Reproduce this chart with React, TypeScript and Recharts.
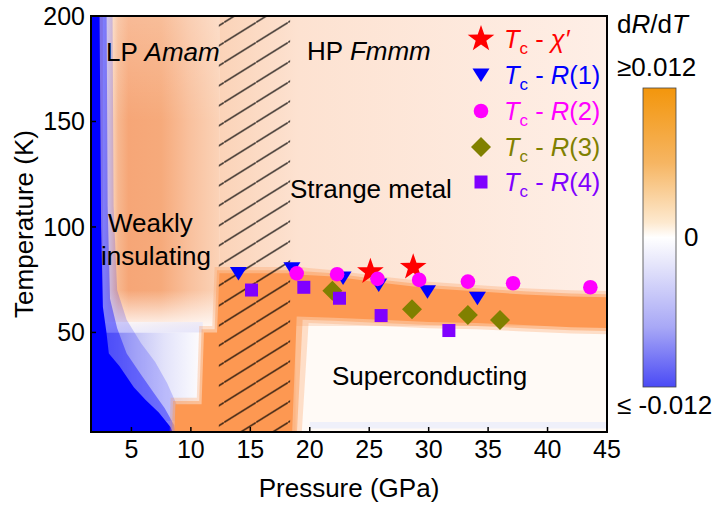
import React from 'react';
import { ComposedChart, XAxis, YAxis, Area, Scatter, ReferenceArea } from 'recharts';

const FONT = '"Liberation Sans", Arial, Helvetica, sans-serif';

// axes
const pressureTicks = [5, 10, 15, 20, 25, 30, 35, 40, 45];
const temperatureTicks = [50, 100, 150, 200];
const pressureDomain: [number, number] = [1.6, 45];
const temperatureDomain: [number, number] = [2.8, 200];

// Tc points (pressure GPa, temperature K)
const tcChi = [
  { p: 25.1, T: 78.8 },
  { p: 28.7, T: 80.9 },
];
const tcR1 = [
  { p: 14.0, T: 77.9 },
  { p: 18.5, T: 80.2 },
  { p: 22.8, T: 75.8 },
  { p: 25.8, T: 72.5 },
  { p: 29.9, T: 69.3 },
  { p: 34.1, T: 66.2 },
];
const tcR2 = [
  { p: 18.9, T: 78.0 },
  { p: 22.3, T: 77.6 },
  { p: 25.7, T: 75.4 },
  { p: 29.2, T: 74.9 },
  { p: 33.3, T: 74.1 },
  { p: 37.1, T: 73.3 },
  { p: 43.6, T: 71.4 },
];
const tcR3 = [
  { p: 21.9, T: 69.8 },
  { p: 28.6, T: 61.0 },
  { p: 33.3, T: 58.3 },
  { p: 36.0, T: 55.9 },
];
const tcR4 = [
  { p: 15.1, T: 70.1 },
  { p: 19.5, T: 71.4 },
  { p: 22.5, T: 66.2 },
  { p: 26.0, T: 58.0 },
  { p: 31.7, T: 50.9 },
];

// dR/dT map contours: [pressure, T low, T high]
// dR/dT <= -0.012 (saturated blue), and two paler contours around it
const blueCoreEdge: [number, number, number][] = [
  [1.0, 0, 215], [2.3, 0, 215], [2.45, 0, 100], [2.6, 0, 62], [2.9, 0, 50], [3.1, 0, 40],
  [4.0, 0, 34], [5.2, 0, 24], [6.2, 0, 18], [7.3, 0, 12], [8.3, 0, 5], [8.6, 0, 0],
];
const blueMidEdge: [number, number, number][] = [
  [1.0, 0, 215], [2.9, 0, 215], [3.0, 0, 110], [3.2, 0, 66], [3.8, 0, 52], [4.6, 0, 40],
  [5.8, 0, 30], [6.8, 0, 22], [7.8, 0, 14], [8.6, 0, 6], [8.8, 0, 0],
];
const blueOuterEdge: [number, number, number][] = [
  [1.0, 0, 215], [3.4, 0, 215], [3.5, 0, 110], [3.8, 0, 70], [4.6, 0, 56], [5.8, 0, 45],
  [7.0, 0, 36], [8.0, 0, 26], [8.8, 0, 16], [9.1, 0, 6], [9.2, 0, 0],
];
// dR/dT >= 0.012 (saturated orange), and two paler contours around it
const orangeCoreEdge: [number, number, number][] = [
  [8.6, 0, 0], [8.7, 0, 16], [10.9, 0, 16], [11.1, 0, 50], [12.2, 0, 50], [12.4, 0, 78],
  [18.5, 0, 78], [18.9, 57.5, 77.5], [22, 57, 76.5], [26, 56, 73.5], [30, 55, 71],
  [34, 54.5, 69.5], [38, 53.5, 68], [42, 52.5, 67], [46, 52, 66.5],
];
const orangeMidEdge: [number, number, number][] = [
  [8.4, 0, 0], [8.5, 0, 17.5], [10.7, 0, 17.5], [10.9, 0, 51.5], [12.0, 0, 51.5], [12.2, 0, 79.5],
  [18.9, 0, 79.5], [19.4, 56, 79], [22, 55.5, 78], [26, 54.5, 75], [30, 53.5, 72.5],
  [34, 53, 71], [38, 52, 69.5], [42, 51, 68.5], [46, 50.5, 68],
];
const orangeOuterEdge: [number, number, number][] = [
  [8.2, 0, 0], [8.3, 0, 19], [10.5, 0, 19], [10.7, 0, 53], [11.8, 0, 53], [12.0, 0, 81],
  [19.3, 0, 81], [19.9, 54.5, 80.5], [22, 54, 79.5], [26, 53, 76.5], [30, 52, 74],
  [34, 51.5, 72.5], [38, 50.5, 71], [42, 49.5, 70], [46, 49, 69.5],
];

// rectangular map cells: [p1, p2, T1, T2]
const baseCell = [0, 50, -10, 220];
const upperCell = [12.4, 46, 55, 215];
const lpOrangeCell = [2.6, 12.4, 50, 230];
const lpTopCell = [2.6, 12.4, 150, 215];
const lpFadeCell = [2.5, 12.4, 51, 70];
const lpWhiteCell = [2.5, 12.4, 0, 51.2];
const lavenderCell = [2.8, 11, 8, 50];
const lavenderTopCell = [2.8, 11, 50, 55];
const scWhiteCell = [18.8, 46, -5, 53];
const scStreakCell = [20, 46, 4.5, 7.5];
const hatchCell = [12.35, 18.35, 0, 210];

function mergeEdges() {
  const rows = new Map<number, any>();
  const add = (edges: [number, number, number][], key: string) =>
    edges.forEach(([p, lo, hi]) => {
      const r = rows.get(p) ?? { p };
      r[key] = [lo, hi];
      rows.set(p, r);
    });
  add(blueOuterEdge, 'blueOuter');
  add(blueMidEdge, 'blueMid');
  add(blueCoreEdge, 'blueCore');
  add(orangeOuterEdge, 'orangeOuter');
  add(orangeMidEdge, 'orangeMid');
  add(orangeCoreEdge, 'orangeCore');
  return [...rows.values()].sort((a, b) => a.p - b.p);
}
const mapData = mergeEdges();

const COLORS = {
  chi: '#ff0000',
  r1: '#0000ff',
  r2: '#ff00ff',
  r3: '#808000',
  r4: '#8000ff',
};
const BLUE_MAP = '#0000ff';
const ORANGE_MAP = '#fd9852';

function starPoints(cx: number, cy: number, R: number, r: number) {
  const pts: string[] = [];
  for (let i = 0; i < 10; i++) {
    const a = -Math.PI / 2 + (i * Math.PI) / 5;
    const rad = i % 2 === 0 ? R : r;
    pts.push(`${cx + rad * Math.cos(a)},${cy + rad * Math.sin(a)}`);
  }
  return pts.join(' ');
}

const StarMark = ({ cx, cy }: any) => <polygon points={starPoints(cx, cy, 14, 5.6)} fill={COLORS.chi} />;
const TriMark = ({ cx, cy }: any) => (
  <polygon points={`${cx - 8.5},${cy - 6.5} ${cx + 8.5},${cy - 6.5} ${cx},${cy + 7}`} fill={COLORS.r1} />
);
const CircleMark = ({ cx, cy }: any) => <circle cx={cx} cy={cy} r={7.3} fill={COLORS.r2} />;
const DiamondMark = ({ cx, cy }: any) => (
  <polygon points={`${cx},${cy - 10} ${cx + 10},${cy} ${cx},${cy + 10} ${cx - 10},${cy}`} fill={COLORS.r3} />
);
const SquareMark = ({ cx, cy }: any) => <rect x={cx - 6.5} y={cy - 6.5} width={13} height={13} fill={COLORS.r4} />;

function renderCell(c: number[], fill: string, z: number, key: string) {
  return (
    <ReferenceArea
      key={key}
      x1={c[0]}
      x2={c[1]}
      y1={c[2]}
      y2={c[3]}
      ifOverflow="hidden"
      fill={fill}
      fillOpacity={1}
      stroke="none"
      zIndex={z}
    />
  );
}

function renderContour(key: string, fill: string, opacity: number, z: number) {
  return (
    <Area
      key={key}
      dataKey={key}
      type="linear"
      stroke="none"
      fill={fill}
      fillOpacity={opacity}
      connectNulls
      isAnimationActive={false}
      dot={false}
      activeDot={false}
      zIndex={z}
    />
  );
}

const legendRows = [
  { color: COLORS.chi, Mark: StarMark, kind: 'chi', tag: '' },
  { color: COLORS.r1, Mark: TriMark, kind: 'R', tag: '1' },
  { color: COLORS.r2, Mark: CircleMark, kind: 'R', tag: '2' },
  { color: COLORS.r3, Mark: DiamondMark, kind: 'R', tag: '3' },
  { color: COLORS.r4, Mark: SquareMark, kind: 'R', tag: '4' },
];
const legendBaselines = [48, 84, 120, 156, 191];

function Overlay() {
  return (
    <svg
      width={717}
      height={508}
      style={{ position: 'absolute', left: 0, top: 0, pointerEvents: 'none' }}
      fontFamily={FONT}
    >
      <defs>
        <linearGradient id="cbar" x1="0" y1="0" x2="0" y2="1">
          <stop offset="0" stopColor="#f3960c" />
          <stop offset="0.25" stopColor="#f6b562" />
          <stop offset="0.45" stopColor="#fde9cf" />
          <stop offset="0.5" stopColor="#ffffff" />
          <stop offset="0.58" stopColor="#e8e8fb" />
          <stop offset="0.8" stopColor="#a8a8f6" />
          <stop offset="1" stopColor="#4a4af5" />
        </linearGradient>
      </defs>
      <rect x={91} y={16} width={516} height={416} fill="none" stroke="#000" strokeWidth={2} />

      <text x={106} y={61} fontSize={26} fill="#000">
        LP <tspan fontStyle="italic">Amam</tspan>
      </text>
      <text x={307} y={60} fontSize={26} fill="#000">
        HP <tspan fontStyle="italic">Fmmm</tspan>
      </text>
      <text x={108} y={232} fontSize={26} fill="#000">Weakly</text>
      <text x={101} y={265} fontSize={26} fill="#000">insulating</text>
      <text x={290} y={198} fontSize={26} fill="#000">Strange metal</text>
      <text x={332} y={385} fontSize={26} fill="#000">Superconducting</text>

      {legendRows.map((row, i) => {
        const b = legendBaselines[i];
        const M = row.Mark;
        return (
          <g key={i}>
            <M cx={481} cy={b - 9} />
            <text x={504} y={b} fontSize={25.5} fill={row.color} style={{ whiteSpace: 'pre' }}>
              <tspan fontStyle="italic">T</tspan>
              <tspan fontSize={17} dy={6}>c</tspan>
              <tspan dy={-6}>{' - '}</tspan>
              {row.kind === 'chi' ? (
                <tspan fontStyle="italic">χ′</tspan>
              ) : (
                <>
                  <tspan fontStyle="italic">R</tspan>
                  <tspan>({row.tag})</tspan>
                </>
              )}
            </text>
          </g>
        );
      })}

      <text x={617} y={33} fontSize={26} fill="#000">
        d<tspan fontStyle="italic">R</tspan>/d<tspan fontStyle="italic">T</tspan>
      </text>
      <text x={617} y={76} fontSize={26} fill="#000">≥0.012</text>
      <rect x={643} y={88} width={33} height={299} fill="url(#cbar)" stroke="#444" strokeWidth={0.8} />
      <text x={684} y={246} fontSize={26} fill="#000">0</text>
      <text x={617} y={414} fontSize={26} fill="#000" style={{ whiteSpace: 'pre' }}>≤ -0.012</text>

      <text x={349} y={497} fontSize={26} fill="#000" textAnchor="middle">Pressure (GPa)</text>
      <text x={33} y={224} fontSize={26} fill="#000" textAnchor="middle" transform="rotate(-90 33 224)">
        Temperature (K)
      </text>
    </svg>
  );
}

export default function App() {
  return (
    <div style={{ position: 'absolute', left: 0, top: 0, width: 717, height: 508, background: '#fff', overflow: 'hidden' }}>
      <svg width={1} height={1} style={{ position: 'absolute', left: 0, top: 0 }}>
        <defs>
          <linearGradient id="upperGrad" x1="0" y1="0" x2="1" y2="0">
            <stop offset="0" stopColor="#fbd3b8" />
            <stop offset="0.2" stopColor="#fde2d1" />
            <stop offset="1" stopColor="#feefe7" />
          </linearGradient>
          <linearGradient id="lpGrad" x1="0" y1="0" x2="1" y2="0">
            <stop offset="0" stopColor="#ffffff" />
            <stop offset="0.06" stopColor="#fbe0cf" />
            <stop offset="0.13" stopColor="#f7b890" />
            <stop offset="0.22" stopColor="#f6a677" />
            <stop offset="0.5" stopColor="#f6aa7b" />
            <stop offset="0.75" stopColor="#f9c19e" />
            <stop offset="1" stopColor="#fbd3b8" />
          </linearGradient>
          <linearGradient id="lpTopGrad" x1="0" y1="0" x2="0" y2="1">
            <stop offset="0" stopColor="#ffffff" stopOpacity={0.3} />
            <stop offset="1" stopColor="#ffffff" stopOpacity={0} />
          </linearGradient>
          <linearGradient id="lpFadeGrad" x1="0" y1="0" x2="0" y2="1">
            <stop offset="0" stopColor="#fffcfb" stopOpacity={0} />
            <stop offset="1" stopColor="#fffcfb" stopOpacity={1} />
          </linearGradient>
          <linearGradient id="lavGrad" x1="0" y1="0" x2="1" y2="0">
            <stop offset="0" stopColor="#9c9cf2" />
            <stop offset="0.3" stopColor="#c4c4f6" />
            <stop offset="0.6" stopColor="#e2e2fa" />
            <stop offset="0.85" stopColor="#f4f4fd" />
            <stop offset="1" stopColor="#fffcfb" />
          </linearGradient>
          <linearGradient id="lavTopGrad" x1="0" y1="0" x2="1" y2="1">
            <stop offset="0" stopColor="#fffcfb" stopOpacity={0.9} />
            <stop offset="1" stopColor="#d6d6f8" stopOpacity={0.6} />
          </linearGradient>
          <pattern id="hatch" patternUnits="userSpaceOnUse" width={32} height={20} patternTransform="translate(0,2.5)">
            <path d="M-2,21.25 L34,-1.25" stroke="#000" strokeWidth={1.1} fill="none" />
          </pattern>
        </defs>
      </svg>
      <ComposedChart
        width={717}
        height={508}
        data={mapData}
        margin={{ top: 16, right: 110, bottom: 0, left: 0 }}
      >
        <XAxis
          type="number"
          dataKey="p"
          domain={pressureDomain}
          ticks={pressureTicks}
          allowDataOverflow
          height={76}
          axisLine={{ stroke: '#000', strokeWidth: 2 }}
          tickLine={{ stroke: '#000', strokeWidth: 1.5 }}
          tickSize={-5}
          tickMargin={13.5}
          tick={{ fontSize: 25, fill: '#000', fontFamily: FONT }}
          interval={0}
        />
        <YAxis
          type="number"
          domain={temperatureDomain}
          ticks={temperatureTicks}
          allowDataOverflow
          width={91}
          axisLine={{ stroke: '#000', strokeWidth: 2 }}
          tickLine={{ stroke: '#000', strokeWidth: 1.5 }}
          tickSize={-5}
          tickMargin={11}
          tick={{ fontSize: 25, fill: '#000', fontFamily: FONT }}
          interval={0}
        />
        {renderCell(baseCell, '#fde4d3', 10, 'base')}
        {renderCell(upperCell, 'url(#upperGrad)', 11, 'upper')}
        {renderCell(lpOrangeCell, 'url(#lpGrad)', 12, 'lpo')}
        {renderCell(lpTopCell, 'url(#lpTopGrad)', 13, 'lpt')}
        {renderCell(lpFadeCell, 'url(#lpFadeGrad)', 14, 'lpf')}
        {renderCell(lpWhiteCell, '#fffcfb', 15, 'lpw')}
        {renderCell(lavenderCell, 'url(#lavGrad)', 16, 'lav')}
        {renderCell(lavenderTopCell, 'url(#lavTopGrad)', 16, 'lavt')}
        {renderContour('blueOuter', BLUE_MAP, 0.18, 17)}
        {renderContour('blueMid', BLUE_MAP, 0.4, 18)}
        {renderContour('blueCore', BLUE_MAP, 1, 19)}
        {renderCell(scWhiteCell, '#fffaf6', 20, 'scw')}
        {renderCell(scStreakCell, '#eff0fa', 21, 'scs')}
        {renderContour('orangeOuter', ORANGE_MAP, 0.28, 22)}
        {renderContour('orangeMid', ORANGE_MAP, 0.45, 23)}
        {renderContour('orangeCore', ORANGE_MAP, 1, 24)}
        {renderCell(hatchCell, 'url(#hatch)', 25, 'hatch')}
        <Scatter data={tcChi} dataKey="T" shape={StarMark} isAnimationActive={false} zIndex={600} />
        <Scatter data={tcR1} dataKey="T" shape={TriMark} isAnimationActive={false} zIndex={601} />
        <Scatter data={tcR2} dataKey="T" shape={CircleMark} isAnimationActive={false} zIndex={602} />
        <Scatter data={tcR3} dataKey="T" shape={DiamondMark} isAnimationActive={false} zIndex={603} />
        <Scatter data={tcR4} dataKey="T" shape={SquareMark} isAnimationActive={false} zIndex={604} />
      </ComposedChart>
      <Overlay />
    </div>
  );
}
